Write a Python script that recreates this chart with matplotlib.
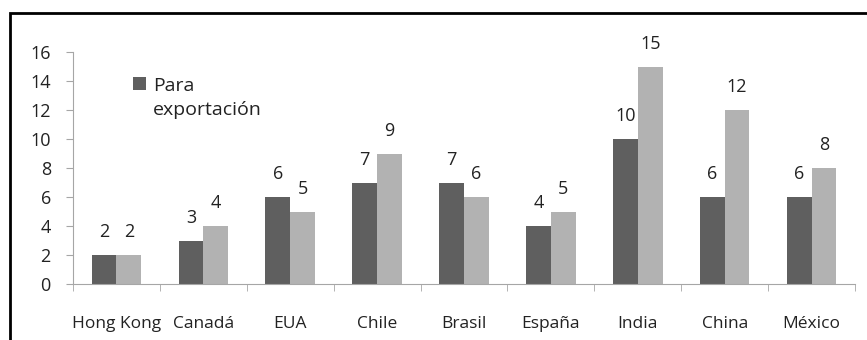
import matplotlib
matplotlib.use("Agg")
import matplotlib.pyplot as plt
from matplotlib.patches import Rectangle
import numpy as np

plt.rcParams['font.family'] = ['Open Sans', 'DejaVu Sans']

paises = ["Hong Kong", "Canadá", "EUA", "Chile", "Brasil", "España", "India", "China", "México"]
exportacion = [2, 3, 6, 7, 7, 4, 10, 6, 6]
segunda = [2, 4, 5, 9, 6, 5, 15, 12, 8]

oscuro = "#5f5f5f"
claro = "#b2b2b2"
eje = "#a6a6a6"
texto = "#222222"

fig = plt.figure(figsize=(8.67, 3.40), dpi=100)
ax = fig.add_axes([73 / 867, 56 / 340, 782 / 867, 232 / 340])

x = np.arange(len(paises))
w = 0.285
b1 = ax.bar(x - w / 2, exportacion, w, color=oscuro, label="Para")
b2 = ax.bar(x + w / 2, segunda, w, color=claro)

for barras in (b1, b2):
    for r in barras:
        ax.annotate(f"{r.get_height():g}", (r.get_x() + r.get_width() / 2, r.get_height()),
                    xytext=(0, 10), textcoords="offset points", ha="center", va="bottom",
                    fontsize=13, color=texto)

ax.set_xlim(-0.5, len(paises) - 0.5)
ax.set_ylim(0, 16)
ax.set_yticks(range(0, 17, 2))

# category labels centered, tick marks at the boundaries
ax.set_xticks(x)
ax.set_xticklabels(paises, fontsize=12.5, color=texto)
ax.tick_params(axis="x", length=0, pad=23)
ax.set_xticks(np.arange(-0.5, len(paises), 1), minor=True)
ax.tick_params(axis="x", which="minor", length=5, color=eje, direction="out")
ax.tick_params(axis="y", length=5, color=eje, labelsize=13, labelcolor=texto, pad=11)

for s in ("top", "right"):
    ax.spines[s].set_visible(False)
ax.spines["left"].set_color(eje)
ax.spines["bottom"].set_color(eje)

# legend: square beside the first line, label wraps onto a second line
ax.legend(loc="center left", bbox_to_anchor=(0.0767, 0.855), frameon=False, fontsize=14,
          borderpad=0, borderaxespad=0, handlelength=0.67, handleheight=0.67,
          handletextpad=0.36, labelcolor=texto)
ax.text(0.102, 0.75, "exportación", transform=ax.transAxes, fontsize=14, color=texto,
        ha="left", va="center")

# outer frame, cut off at the right and bottom
fig.patches.append(Rectangle((10 / 867, -0.2), 1.0, (340 - 13) / 340 + 0.2,
                             transform=fig.transFigure, fill=False, edgecolor="black",
                             linewidth=2, figure=fig))

fig.savefig("out.png", dpi=100)
